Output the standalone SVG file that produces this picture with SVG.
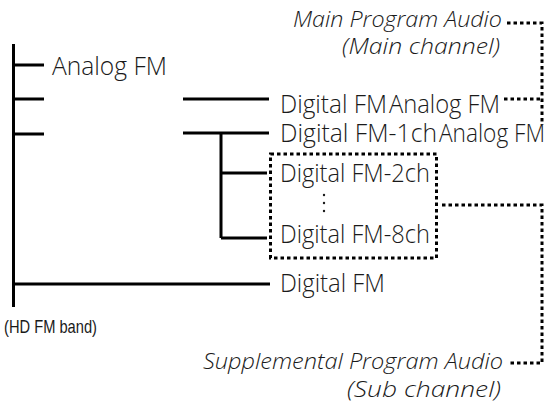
<svg xmlns="http://www.w3.org/2000/svg" width="548" height="412" viewBox="0 0 548 412">
<style>
.t{font-family:"Open Sans","Noto Sans","Liberation Sans",sans-serif;font-size:25px;font-weight:300;fill:#1a1a1a}
.i{font-family:"Open Sans","Noto Sans","Liberation Sans",sans-serif;font-size:22px;font-weight:300;font-style:italic;fill:#1a1a1a}
.s{font-family:"Liberation Sans","Noto Sans",sans-serif;font-size:19px;fill:#1a1a1a}
.ln{stroke:#000;stroke-width:3;fill:none}
.dt{stroke:#000;stroke-width:3;fill:none;stroke-dasharray:3.5 3}
</style>
<rect width="548" height="412" fill="#fff"/>
<g id="connectors">
<path class="ln" d="M13.5 44V307M12 65H44M12 99H44M12 134H44M12 284H270M183 99H269M183 133H269M221 133V238M221 173H267M221 238H267"/>
<path class="dt" d="M507 23H542V125M504 99H540"/>
<path class="dt" d="M442 205H542V363H509"/>
</g>
<g id="band"><text class="s" x="4" y="333" textLength="93" lengthAdjust="spacingAndGlyphs">(HD FM band)</text></g>
<g id="analog"><text class="t" x="52" y="75" textLength="115" lengthAdjust="spacingAndGlyphs">Analog FM</text></g>
<g id="digital1"><text class="t" x="280" y="113" textLength="107" lengthAdjust="spacingAndGlyphs">Digital FM</text><text class="t" x="389" y="113" textLength="111" lengthAdjust="spacingAndGlyphs">Analog FM</text></g>
<g id="digital1ch"><text class="t" x="280" y="142" textLength="157" lengthAdjust="spacingAndGlyphs">Digital FM-1ch</text><text class="t" x="439" y="142" textLength="106" lengthAdjust="spacingAndGlyphs">Analog FM</text></g>
<g id="subgroup">
<rect class="dt" x="270.5" y="154" width="166" height="104"/>
<text class="t" x="280" y="182" textLength="150" lengthAdjust="spacingAndGlyphs">Digital FM-2ch</text>
<text class="t" x="280" y="243" textLength="150" lengthAdjust="spacingAndGlyphs">Digital FM-8ch</text>
<g fill="#1a1a1a"><circle cx="324" cy="195" r="1.2"/><circle cx="324" cy="203" r="1.2"/><circle cx="324" cy="211" r="1.2"/></g>
</g>
<g id="digital"><text class="t" x="280" y="292" textLength="105" lengthAdjust="spacingAndGlyphs">Digital FM</text></g>
<g id="main">
<text class="i" x="502" y="27" text-anchor="end" textLength="209" lengthAdjust="spacingAndGlyphs">Main Program Audio</text>
<text class="i" x="500" y="54" text-anchor="end" textLength="158" lengthAdjust="spacingAndGlyphs">(Main channel)</text>
</g>
<g id="supplemental">
<text class="i" x="503" y="369" text-anchor="end" textLength="300" lengthAdjust="spacingAndGlyphs">Supplemental Program Audio</text>
<text class="i" x="501" y="397" text-anchor="end" textLength="154" lengthAdjust="spacingAndGlyphs">(Sub channel)</text>
</g>
</svg>
